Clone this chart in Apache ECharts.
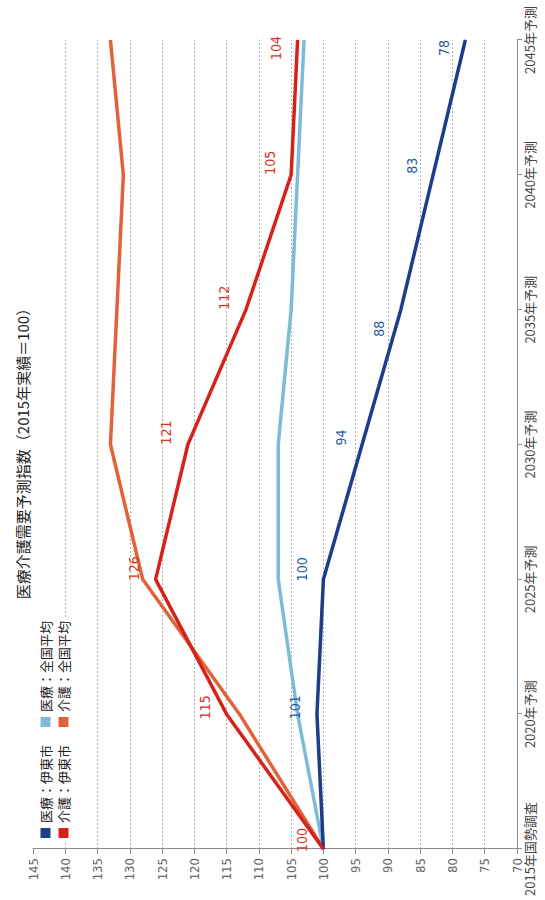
<!DOCTYPE html>
<html>
<head>
<meta charset="utf-8">
<script src="https://cdn.jsdelivr.net/npm/echarts@6/dist/echarts.min.js"></script>
<style>
  html, body { margin: 0; padding: 0; background: #fff; overflow: hidden; }
  #page { position: relative; width: 545px; height: 900px; overflow: hidden; background: #fff; }
  #chart { position: absolute; left: 0; top: 0; width: 900px; height: 545px;
           transform-origin: 0 0; transform: translate(0, 900px) rotate(-90deg); }
</style>
</head>
<body>
<div id="page"><div id="chart"></div></div>
<script>
// ---- data ----
const categories = ['2015年国勢調査', '2020年予測', '2025年予測', '2030年予測', '2035年予測', '2040年予測', '2045年予測'];
const iryoIto      = [100, 101, 100, 94, 88, 83, 78];      // 医療：伊東市
const iryoZenkoku  = [100, 104, 107, 107, 105, 104, 103];  // 医療：全国平均
const kaigoIto     = [100, 115, 126, 121, 112, 105, 104];  // 介護：伊東市
const kaigoZenkoku = [100, 113, 128, 133, 132, 131, 133];  // 介護：全国平均
const seriesNames  = ['医療：伊東市', '医療：全国平均', '介護：伊東市', '介護：全国平均'];
const titleText    = '医療介護需要予測指数（2015年実績＝100）';

// ---- layout helpers (label shifts along the category direction) ----
const navyShift = [0, 7, 10, 7, -19, 9, -8];
const redShift  = [9, 7, 11, 12, 12, 12, -8];
const navyShow  = [false, true, true, true, true, true, true];

const FONT = "'Noto Sans CJK JP', 'Noto Sans', sans-serif";
const NUMFONT = "'Liberation Sans Narrow', 'DejaVu Sans Condensed', 'Roboto', sans-serif";

function labelled(values, shifts, shows, color) {
  return values.map((v, i) => ({
    value: v,
    label: {
      show: shows ? shows[i] : true,
      position: 'top',
      distance: 14,
      offset: [shifts[i], 0],
      color: color,
      fontSize: 14,
      fontFamily: NUMFONT
    }
  }));
}

const chart = echarts.init(document.getElementById('chart'), null, { renderer: 'svg', width: 900, height: 545 });

const legendCommon = {
  left: 58,
  padding: [2, 4, 2, 4],
  itemWidth: 10,
  itemHeight: 10,
  itemGap: 18,
  icon: 'rect',
  backgroundColor: '#fff',
  selectedMode: false,
  textStyle: { fontSize: 13, color: '#222', fontFamily: FONT }
};

const option = {
  animation: false,
  backgroundColor: '#fff',
  title: {
    text: titleText,
    left: 'center',
    top: 15,
    padding: 0,
    textStyle: { fontSize: 15, fontWeight: 'normal', color: '#222', fontFamily: FONT }
  },
  legend: [
    Object.assign({}, legendCommon, { top: 37, data: [seriesNames[0], seriesNames[1]] }),
    Object.assign({}, legendCommon, { top: 55, data: [seriesNames[2], seriesNames[3]] })
  ],
  grid: { left: 51, right: 40, top: 33, bottom: 28, containLabel: false },
  xAxis: {
    type: 'category',
    data: categories,
    boundaryGap: false,
    axisLine: { show: true, lineStyle: { color: '#8a8a8a', width: 1 } },
    axisTick: { show: true, length: 5, lineStyle: { color: '#8a8a8a' } },
    axisLabel: { fontSize: 13, color: '#444', margin: 6, fontFamily: FONT },
    splitLine: { show: false }
  },
  yAxis: {
    type: 'value',
    min: 70,
    max: 145,
    interval: 5,
    axisLine: { show: true, lineStyle: { color: '#8a8a8a', width: 1 } },
    axisTick: { show: true, length: 5, lineStyle: { color: '#8a8a8a' } },
    axisLabel: { fontSize: 13, color: '#666', margin: 9, fontFamily: NUMFONT },
    splitLine: {
      show: true,
      showMinLine: false,
      showMaxLine: false,
      lineStyle: { color: '#b0b0b0', width: 1, type: [2, 2] }
    }
  },
  series: [
    {
      name: seriesNames[1], type: 'line', data: iryoZenkoku,
      symbol: 'none', color: '#7dbbd9',
      lineStyle: { width: 3.5, color: '#7dbbd9' }, z: 2
    },
    {
      name: seriesNames[3], type: 'line', data: kaigoZenkoku,
      symbol: 'none', color: '#e2623a',
      lineStyle: { width: 3.5, color: '#e2623a' }, z: 3
    },
    {
      name: seriesNames[0], type: 'line',
      data: labelled(iryoIto, navyShift, navyShow, '#1f5c9e'),
      symbol: 'circle', symbolSize: 1, showSymbol: true, color: '#1b3d8a',
      lineStyle: { width: 3.5, color: '#1b3d8a' }, z: 4
    },
    {
      name: seriesNames[2], type: 'line',
      data: labelled(kaigoIto, redShift, null, '#d8321f'),
      symbol: 'circle', symbolSize: 1, showSymbol: true, color: '#d7221b',
      lineStyle: { width: 3.5, color: '#d7221b' }, z: 5
    }
  ]
};

chart.setOption(option);
</script>
</body>
</html>
